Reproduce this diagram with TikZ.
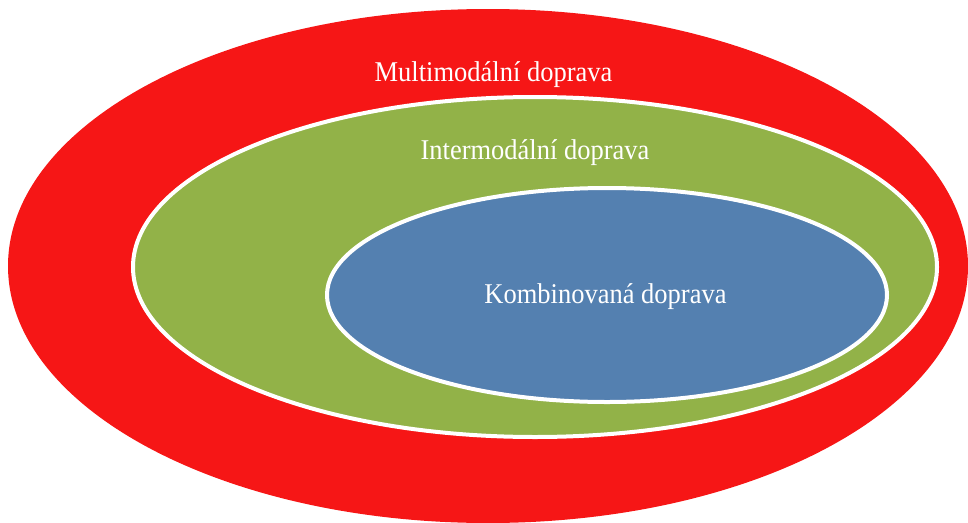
\documentclass[tikz,border=0pt]{standalone}
\usepackage{fontspec}
\setmainfont{Liberation Serif}
\definecolor{multired}{RGB}{246,22,22}
\definecolor{intergreen}{RGB}{146,178,72}
\definecolor{kombiblue}{RGB}{84,128,176}
\begin{document}
\begin{tikzpicture}[x=1pt,y=-1pt,
  zone/.style={draw=white, line width=4pt},
  lbl/.style={text=white, inner sep=0pt, anchor=base, yscale=1.08,
              font=\fontsize{26.5}{30}\selectfont}]
\useasboundingbox (0,0) rectangle (968,522);
\begin{scope}
\clip (0,0) rectangle (968,522);
% nested sets of transport types
\fill[multired] (488,266) ellipse [x radius=480, y radius=257];
\path[zone, fill=intergreen] (535,267) ellipse [x radius=402, y radius=170];
\path[zone, fill=kombiblue] (607,295) ellipse [x radius=280, y radius=107];
\end{scope}
\node[lbl] (multi) at (493.5,81) {Multimodální doprava};
\node[lbl] (inter) at (535,159) {Intermodální doprava};
\node[lbl] (kombi) at (605.5,303) {Kombinovaná doprava};
\end{tikzpicture}
\end{document}
